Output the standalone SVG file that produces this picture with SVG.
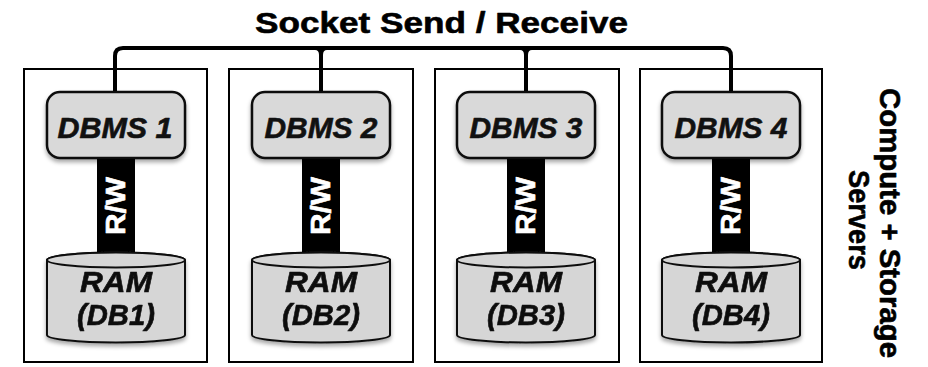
<svg xmlns="http://www.w3.org/2000/svg" width="928" height="367" viewBox="0 0 928 367">
<defs>
<filter id="sh" x="-10%" y="-10%" width="120%" height="130%">
<feDropShadow dx="0" dy="3" stdDeviation="2" flood-color="#000" flood-opacity="0.35"/>
</filter>
</defs>
<style>
.srv{fill:#fff;stroke:#000;stroke-width:2}
.dbms{fill:#d9d9d9;stroke:#111;stroke-width:2.5;filter:url(#sh)}
.cyl{fill:#d6d6d6;stroke:#111;stroke-width:2}
.bus{fill:none;stroke:#000;stroke-width:4;stroke-linejoin:round}
.bar{fill:#000}
.t{font-family:"Liberation Sans",Arial,Helvetica,sans-serif;font-weight:bold;stroke-width:0.6;stroke-linejoin:round}
.lbl{font-size:29px;font-style:italic;text-anchor:middle;fill:#111;stroke:#111}
.rw{font-size:28px;fill:#fff;stroke:#fff;text-anchor:middle}
.side{font-size:29px;text-anchor:middle;fill:#000;stroke:#000}
.ttl{font-size:30px;text-anchor:middle;fill:#000;stroke:#000}
</style>
<rect width="928" height="367" fill="#fff"/>
<text class="t ttl" x="441.5" y="33" textLength="373" lengthAdjust="spacingAndGlyphs">Socket Send / Receive</text>
<g id="server-1"><rect class="srv" x="24" y="69" width="183" height="293"/></g>
<g id="server-2"><rect class="srv" x="229" y="69" width="184" height="293"/></g>
<g id="server-3"><rect class="srv" x="435" y="69" width="184" height="293"/></g>
<g id="server-4"><rect class="srv" x="640" y="69" width="182" height="293"/></g>
<g id="connectors">
<path class="bus" d="M115 93 V56 Q115 48 123 48 H723 Q731 48 731 56 V93"/>
<path class="bus" d="M321 93 V55 Q321 48 315 48 M321 55 Q321 48 327 48"/>
<path class="bus" d="M526 93 V55 Q526 48 520 48 M526 55 Q526 48 532 48"/>
<rect class="bar" x="97" y="156" width="38" height="98"/>
<rect class="bar" x="302" y="156" width="38" height="98"/>
<rect class="bar" x="507" y="156" width="38" height="98"/>
<rect class="bar" x="712" y="156" width="38" height="98"/>
<text class="t rw" transform="translate(125 206) rotate(-90)" textLength="58" lengthAdjust="spacingAndGlyphs">R/W</text>
<text class="t rw" transform="translate(330 206) rotate(-90)" textLength="58" lengthAdjust="spacingAndGlyphs">R/W</text>
<text class="t rw" transform="translate(535 206) rotate(-90)" textLength="58" lengthAdjust="spacingAndGlyphs">R/W</text>
<text class="t rw" transform="translate(740 206) rotate(-90)" textLength="58" lengthAdjust="spacingAndGlyphs">R/W</text>
</g>
<g id="dbms-1"><rect class="dbms" x="47" y="92" width="138" height="66" rx="13"/><text class="t lbl" x="115" y="138" textLength="115" lengthAdjust="spacingAndGlyphs">DBMS 1</text></g>
<g id="dbms-2"><rect class="dbms" x="252" y="92" width="138" height="66" rx="13"/><text class="t lbl" x="321" y="138" textLength="113" lengthAdjust="spacingAndGlyphs">DBMS 2</text></g>
<g id="dbms-3"><rect class="dbms" x="457" y="92" width="138" height="66" rx="13"/><text class="t lbl" x="526" y="138" textLength="113" lengthAdjust="spacingAndGlyphs">DBMS 3</text></g>
<g id="dbms-4"><rect class="dbms" x="662" y="92" width="138" height="66" rx="13"/><text class="t lbl" x="731" y="138" textLength="113" lengthAdjust="spacingAndGlyphs">DBMS 4</text></g>
<g id="ram-1" filter="url(#sh)">
<path class="cyl" d="M47 260 A69 7.5 0 0 1 185 260 V335 A69 7.5 0 0 1 47 335 Z"/>
<ellipse class="cyl" cx="116" cy="260" rx="69" ry="7.5"/>
<text class="t lbl" x="116" y="292" textLength="72" lengthAdjust="spacingAndGlyphs">RAM</text>
<text class="t lbl" x="116" y="325" textLength="78" lengthAdjust="spacingAndGlyphs">(DB1)</text>
</g>
<g id="ram-2" filter="url(#sh)">
<path class="cyl" d="M252 260 A69 7.5 0 0 1 390 260 V335 A69 7.5 0 0 1 252 335 Z"/>
<ellipse class="cyl" cx="321" cy="260" rx="69" ry="7.5"/>
<text class="t lbl" x="321" y="292" textLength="72" lengthAdjust="spacingAndGlyphs">RAM</text>
<text class="t lbl" x="321" y="325" textLength="78" lengthAdjust="spacingAndGlyphs">(DB2)</text>
</g>
<g id="ram-3" filter="url(#sh)">
<path class="cyl" d="M457 260 A69 7.5 0 0 1 595 260 V335 A69 7.5 0 0 1 457 335 Z"/>
<ellipse class="cyl" cx="526" cy="260" rx="69" ry="7.5"/>
<text class="t lbl" x="526" y="292" textLength="72" lengthAdjust="spacingAndGlyphs">RAM</text>
<text class="t lbl" x="526" y="325" textLength="78" lengthAdjust="spacingAndGlyphs">(DB3)</text>
</g>
<g id="ram-4" filter="url(#sh)">
<path class="cyl" d="M662 260 A69 7.5 0 0 1 800 260 V335 A69 7.5 0 0 1 662 335 Z"/>
<ellipse class="cyl" cx="731" cy="260" rx="69" ry="7.5"/>
<text class="t lbl" x="731" y="292" textLength="72" lengthAdjust="spacingAndGlyphs">RAM</text>
<text class="t lbl" x="731" y="325" textLength="78" lengthAdjust="spacingAndGlyphs">(DB4)</text>
</g>
<g id="side-label">
<text class="t side" transform="translate(880 223) rotate(90)" textLength="270" lengthAdjust="spacingAndGlyphs">Compute + Storage</text>
<text class="t side" transform="translate(849 220) rotate(90)" textLength="100" lengthAdjust="spacingAndGlyphs">Servers</text>
</g>
</svg>
